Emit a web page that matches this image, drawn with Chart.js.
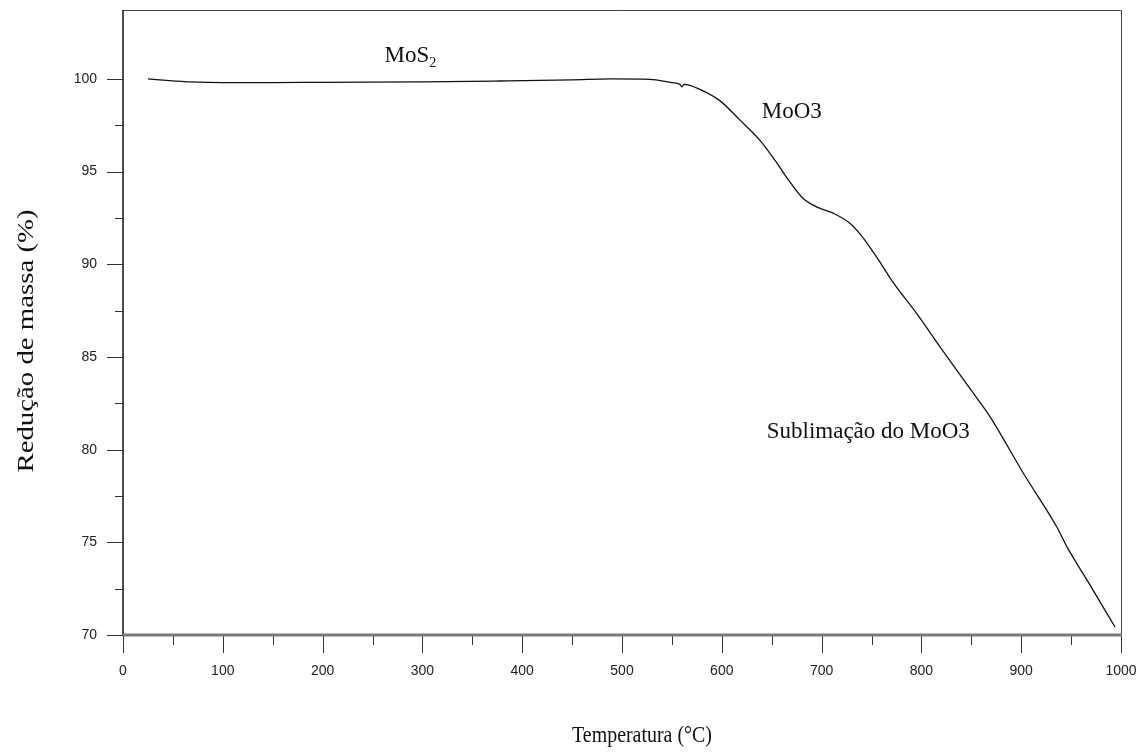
<!DOCTYPE html>
<html>
<head>
<meta charset="utf-8">
<script src="https://cdn.jsdelivr.net/npm/chart.js@4/dist/chart.umd.min.js"></script>
<style>
  html, body { margin: 0; padding: 0; background: #fff; }
  #wrap { width: 1145px; height: 754px; }
</style>
</head>
<body>
<div id="wrap"><canvas id="tgaChart" width="1145" height="754"></canvas></div>
<script>
// TGA curve of MoS2 heated in air
const temperature = [25, 50, 67, 100, 150, 200, 300, 378, 450, 488, 528, 550, 558, 560, 562, 578, 598, 618, 638, 653, 668, 681, 695, 711, 728, 741, 755, 772, 795, 821, 852, 869, 902, 936, 946, 966, 994];
const massLeft = [100.0, 99.9, 99.84, 99.8, 99.8, 99.82, 99.84, 99.89, 99.95, 100.0, 99.98, 99.8, 99.71, 99.58, 99.71, 99.44, 98.83, 97.79, 96.7, 95.63, 94.46, 93.58, 93.1, 92.77, 92.23, 91.47, 90.4, 89.0, 87.37, 85.37, 83.05, 81.76, 78.74, 75.8, 74.74, 72.96, 70.43];

const xMajorTicks = [0, 100, 200, 300, 400, 500, 600, 700, 800, 900, 1000];
const xMinorTicks = [50, 150, 250, 350, 450, 550, 650, 750, 850, 950];
const yMajorTicks = [70, 75, 80, 85, 90, 95, 100];
const yMinorTicks = [72.5, 77.5, 82.5, 87.5, 92.5, 97.5];

const xTitle = 'Temperatura (°C)';
const yTitle = 'Redução de massa (%)';

// phase labels, placed in data units
const noteText = ['MoS', 'MoO3', 'Sublimação do MoO3'];
const noteSub = ['2', '', ''];
const noteX = [262, 640, 645];
const noteY = [100.92, 97.9, 80.63];

const serif = "'Liberation Serif', 'Times New Roman', serif";
const sans = "'Liberation Sans', Arial, sans-serif";

const points = temperature.map((t, i) => ({ x: t, y: massLeft[i] }));

const frame = {
    id: 'frame',
    afterDraw(chart) {
        const { ctx, chartArea: a, scales: { x, y } } = chart;
        ctx.save();

        // top and right border
        ctx.strokeStyle = '#444';
        ctx.lineWidth = 1;
        ctx.beginPath();
        ctx.moveTo(a.left, a.top + 0.5);
        ctx.lineTo(a.right + 0.5, a.top + 0.5);
        ctx.lineTo(a.right + 0.5, a.bottom);
        ctx.stroke();

        // left axis
        ctx.strokeStyle = '#111';
        ctx.lineWidth = 1.5;
        ctx.beginPath();
        ctx.moveTo(a.left, a.top);
        ctx.lineTo(a.left, a.bottom);
        ctx.stroke();

        // y ticks, outward
        ctx.strokeStyle = '#333';
        ctx.lineWidth = 1;
        ctx.beginPath();
        yMajorTicks.forEach(v => {
            const p = Math.round(y.getPixelForValue(v)) + 0.5;
            ctx.moveTo(a.left - 16, p);
            ctx.lineTo(a.left, p);
        });
        yMinorTicks.forEach(v => {
            const p = Math.round(y.getPixelForValue(v)) + 0.5;
            ctx.moveTo(a.left - 8, p);
            ctx.lineTo(a.left, p);
        });
        ctx.stroke();

        // x ticks, downward
        ctx.beginPath();
        xMajorTicks.forEach(v => {
            const p = Math.round(x.getPixelForValue(v)) + 0.5;
            ctx.moveTo(p, a.bottom);
            ctx.lineTo(p, a.bottom + 18);
        });
        xMinorTicks.forEach(v => {
            const p = Math.round(x.getPixelForValue(v)) + 0.5;
            ctx.moveTo(p, a.bottom);
            ctx.lineTo(p, a.bottom + 10);
        });
        ctx.stroke();

        // bottom axis, heavier grey
        ctx.strokeStyle = '#7a7a7a';
        ctx.lineWidth = 3;
        ctx.beginPath();
        ctx.moveTo(a.left, a.bottom);
        ctx.lineTo(a.right + 1, a.bottom);
        ctx.stroke();

        // axis titles
        ctx.fillStyle = '#111';
        ctx.font = '24px ' + serif;
        ctx.textAlign = 'center';
        ctx.textBaseline = 'alphabetic';

        ctx.save();
        ctx.translate((a.left + a.right) / 2 + 20, 742);
        ctx.scale(0.83, 1);
        ctx.fillText(xTitle, 0, 0);
        ctx.restore();

        ctx.save();
        ctx.translate(33, 341);
        ctx.rotate(-Math.PI / 2);
        ctx.scale(1.2, 1);
        ctx.fillText(yTitle, 0, 0);
        ctx.restore();

        // phase labels
        ctx.textAlign = 'left';
        noteText.forEach((txt, i) => {
            const px = x.getPixelForValue(noteX[i]);
            const py = y.getPixelForValue(noteY[i]);
            ctx.font = '23px ' + serif;
            ctx.fillText(txt, px, py);
            if (noteSub[i]) {
                const w = ctx.measureText(txt).width;
                ctx.font = '14px ' + serif;
                ctx.fillText(noteSub[i], px + w, py + 5);
            }
        });

        ctx.restore();
    }
};

const ctx = document.getElementById('tgaChart').getContext('2d');

new Chart(ctx, {
    type: 'line',
    data: {
        datasets: [{
            label: 'MoS2',
            data: points,
            borderColor: '#111',
            borderWidth: 1.3,
            pointRadius: 0,
            fill: false,
            cubicInterpolationMode: 'monotone'
        }]
    },
    options: {
        responsive: false,
        animation: false,
        layout: {
            padding: { top: 10, right: 24, left: 0, bottom: 0 }
        },
        plugins: {
            legend: { display: false },
            tooltip: { enabled: false }
        },
        scales: {
            x: {
                type: 'linear',
                min: 0,
                max: 1000,
                afterBuildTicks: scale => {
                    scale.ticks = xMajorTicks.map(v => ({ value: v }));
                },
                afterFit: scale => {
                    scale.height = 119;
                    scale.paddingLeft = 0;
                    scale.paddingRight = 0;
                },
                ticks: {
                    color: '#222',
                    font: { family: sans, size: 14 },
                    padding: 28,
                    maxRotation: 0,
                    autoSkip: false,
                    callback: v => String(v)
                },
                grid: { display: false, drawTicks: false },
                border: { display: false }
            },
            y: {
                type: 'linear',
                min: 70,
                max: 103.72,
                afterBuildTicks: scale => {
                    scale.ticks = yMajorTicks.map(v => ({ value: v }));
                },
                afterFit: scale => {
                    scale.width = 123;
                    scale.paddingTop = 0;
                    scale.paddingBottom = 0;
                },
                ticks: {
                    color: '#222',
                    font: { family: sans, size: 14 },
                    padding: 26,
                    autoSkip: false,
                    callback: v => String(v)
                },
                grid: { display: false, drawTicks: false },
                border: { display: false }
            }
        }
    },
    plugins: [frame]
});
</script>
</body>
</html>
